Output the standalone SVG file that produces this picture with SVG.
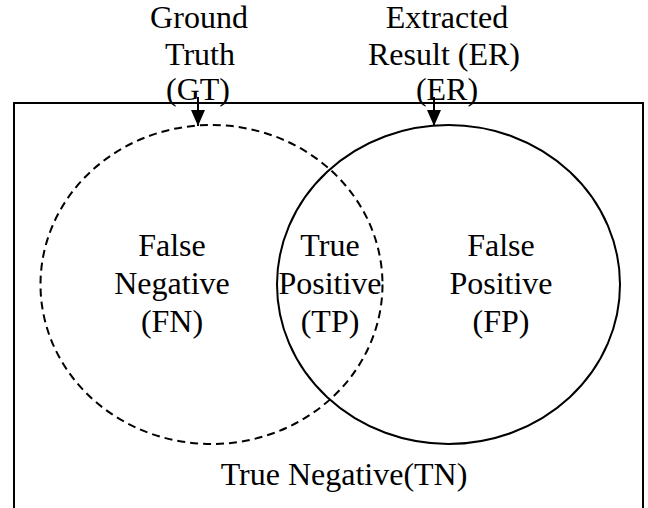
<svg xmlns="http://www.w3.org/2000/svg" width="648" height="508" viewBox="0 0 648 508">
<defs>
<style>
text{font-family:"Liberation Serif","Times New Roman",serif;font-size:32px;fill:#000;text-anchor:middle}
.ln{fill:none;stroke:#000;stroke-width:2}
</style>
<marker id="ah" markerWidth="16" markerHeight="14" refX="16" refY="7" orient="auto" markerUnits="userSpaceOnUse" viewBox="0 0 16 14">
<path d="M0,0 L16,7 L0,14 Z" fill="#000"/>
</marker>
</defs>
<rect width="648" height="508" fill="#fff"/>
<g id="universe">
<path class="ln" d="M14,520 V103 H643 V520"/>
<text x="344" y="485">True Negative(TN)</text>
</g>
<g id="gt">
<ellipse class="ln" cx="211.5" cy="284.5" rx="171" ry="159.5" stroke-dasharray="8 5"/>
<text x="199" y="28">Ground</text>
<text x="200" y="65">Truth</text>
<text x="198" y="100">(GT)</text>
</g>
<g id="er">
<ellipse class="ln" cx="448.5" cy="284.5" rx="171.5" ry="159.5"/>
<text x="447" y="28">Extracted</text>
<text x="444" y="65">Result (ER)</text>
<text x="447" y="100">(ER)</text>
</g>
<g id="fn">
<text x="172" y="256">False</text>
<text x="172" y="294">Negative</text>
<text x="172" y="332">(FN)</text>
</g>
<g id="tp">
<text x="330" y="256">True</text>
<text x="330" y="294">Positive</text>
<text x="330" y="332">(TP)</text>
</g>
<g id="fp">
<text x="501" y="256">False</text>
<text x="501" y="294">Positive</text>
<text x="501" y="332">(FP)</text>
</g>
<g id="connectors">
<path class="ln" d="M198,97 V126" marker-end="url(#ah)"/>
<path class="ln" d="M434,97 V126" marker-end="url(#ah)"/>
</g>
</svg>
